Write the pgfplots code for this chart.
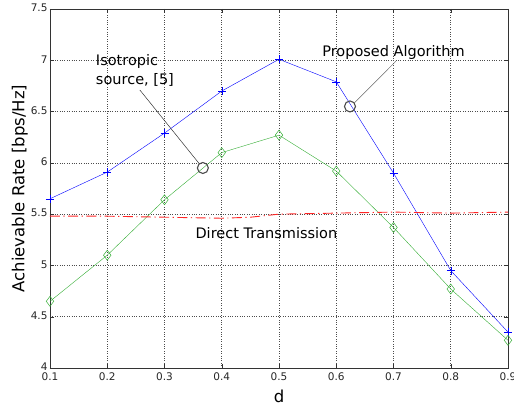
\documentclass[border=0pt]{standalone}
\usepackage{fontspec}
\setmainfont{DejaVu Sans}
\usepackage{pgfplots}
\pgfplotsset{compat=1.18}
\usetikzlibrary{calc}

\begin{document}
\begin{tikzpicture}
\begin{axis}[
    name=ax,
    scale only axis,
    width=458pt, height=359pt,
    xmin=0.1, xmax=0.9, ymin=4, ymax=7.5,
    xtick={0.1,0.2,...,0.9},
    ytick={4,4.5,...,7.5},
    xticklabel style={/pgf/number format/fixed, /pgf/number format/precision=1, yshift=-1pt},
    yticklabel style={/pgf/number format/fixed, /pgf/number format/precision=1, xshift=1pt, yshift=1pt},
    /pgf/number format/assume math mode=true,
    tick label style={font=\fontsize{10.5}{12}\selectfont, color=black!85},
    label style={font=\fontsize{16.5}{19}\selectfont},
    xlabel={d},
    ylabel={Achievable Rate [bps/Hz]},
    xlabel style={yshift=-3pt},
    ylabel style={yshift=-4pt},
    grid=major,
    major grid style={black!70, dotted, line width=0.6pt},
    tick align=inside,
    major tick length=4pt,
    axis line style={black!80, line width=0.7pt},
    every tick/.style={black!80},
]
\addplot[blue, line width=0.4pt, mark=+, mark size=4pt] coordinates {
    (0.1,5.65) (0.2,5.91) (0.3,6.29) (0.4,6.70) (0.5,7.01)
    (0.6,6.79) (0.7,5.90) (0.8,4.95) (0.9,4.35)
};
\addplot[green!60!black!80, line width=0.4pt, mark=diamond, mark size=5pt, mark options={line width=0.5pt}] coordinates {
    (0.1,4.65) (0.2,5.10) (0.3,5.64) (0.4,6.10) (0.5,6.27)
    (0.6,5.92) (0.7,5.37) (0.8,4.77) (0.9,4.27)
};
\addplot[red!85, line width=0.9pt, dash pattern=on 10pt off 3.5pt on 1.2pt off 3.5pt] coordinates {
    (0.1,5.48) (0.2,5.48) (0.3,5.47) (0.4,5.46) (0.45,5.47) (0.5,5.50)
    (0.6,5.51) (0.7,5.52) (0.8,5.51) (0.9,5.52)
};
% annotations
\addplot[black!80, line width=0.5pt] coordinates {(0.257,6.71) (0.361,5.99)};
\addplot[black!60, line width=0.5pt] coordinates {(0.704,6.99) (0.631,6.58)};
\addplot[black!70, only marks, mark=o, mark size=5.5pt, mark options={line width=1.1pt}] coordinates {
    (0.367,5.95) (0.624,6.55)
};
\node[font=\fontsize{14.5}{19}\selectfont, align=left, anchor=south west, inner sep=0pt] at (axis cs:0.18,6.74) {Isotropic\\source, [5]};
\node[font=\fontsize{14.5}{17}\selectfont] at (axis cs:0.70,7.08) {Proposed Algorithm};
\node[font=\fontsize{14.5}{17}\selectfont] at (axis cs:0.478,5.32) {Direct Transmission};
\end{axis}
\pgfresetboundingbox
\path[use as bounding box] ($(ax.south west)+(-50pt,-44pt)$) rectangle ($(ax.north east)+(6pt,9pt)$);
\end{tikzpicture}
\end{document}
